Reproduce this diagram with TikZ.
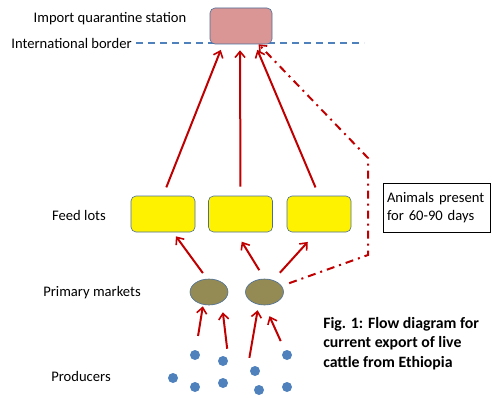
\documentclass[tikz,border=0pt]{standalone}
\usepackage{fontspec}
\setmainfont{Carlito}
\usetikzlibrary{arrows.meta, positioning, shapes.geometric}

\definecolor{qred}{HTML}{D99694}
\definecolor{boxline}{HTML}{4A6E9A}
\definecolor{olive}{HTML}{948A54}
\definecolor{dotblue}{HTML}{4F81BD}
\definecolor{arrred}{HTML}{C00000}

\begin{document}
\begin{tikzpicture}[
            x = 1pt, y = -1pt, % one unit is one pixel of the sketch
            > = {Straight Barb[length=6pt, width=10pt, line width=1.6pt]}, % arrow head style
            font = \fontsize{14.6}{17.5}\selectfont,
            semithick % line style
        ]

        \tikzstyle{station}=[
            draw = boxline,
            fill = qred,
            rounded corners = 5pt,
            minimum width = 62pt,
            minimum height = 36pt
        ]
        \tikzstyle{lot}=[
            draw = boxline,
            fill = yellow,
            rounded corners = 5pt,
            minimum width = 64pt,
            minimum height = 36pt
        ]
        \tikzstyle{market}=[
            draw = boxline,
            fill = olive,
            ellipse,
            minimum width = 38pt,
            minimum height = 26pt
        ]
        \tikzstyle{farm}=[
            fill = dotblue,
            circle,
            inner sep = 0pt,
            minimum size = 10pt
        ]
        \tikzstyle{flow}=[
            ->,
            color = arrred,
            line width = 2pt
        ]

	\useasboundingbox (0,0) rectangle (492,398);

	% border line
	\coordinate (bl) at (136,43);
	\coordinate (br) at (364,43);
	\draw[dotblue, line width=1.8pt, dash pattern=on 7pt off 5pt] (bl) -- (br);

	\node[station] (q) at (241,26) {};

	\node[lot] (f1) at (163,214) {};
	\node[lot] (f2) at (240.5,214) {};
	\node[lot] (f3) at (319,214) {};

	\node[market] (m1) at (209,292) {};
	\node[market] (m2) at (264.5,292) {};

	\node[farm] (p1) at (195,355) {};
	\node[farm] (p2) at (223,361) {};
	\node[farm] (p3) at (287,355) {};
	\node[farm] (p4) at (255,371) {};
	\node[farm] (p5) at (173,378) {};
	\node[farm] (p6) at (195,387) {};
	\node[farm] (p7) at (223,383) {};
	\node[farm] (p8) at (259,390) {};
	\node[farm] (p9) at (287,387) {};

	% labels
	\node (lq) at (110,19) {Import quarantine station};
	\node[anchor=east, inner sep=0pt] (lb) at (132,43) {International border};
	\node (lf) at (79,215) {Feed lots};
	\node (lm) at (92,293) {Primary markets};
	\node (lp) at (81,376) {Producers};
	\node[draw, thick, align=left, minimum width=107pt, minimum height=49pt,
	      inner sep=4pt, text width=99pt] (note) at (436.5,207.5) {Animals present\\for 60-90 days};
	\node[anchor=north west, align=left, inner sep=0pt,
	      font=\fontsize{15.8}{19.5}\selectfont\bfseries]
	     (cap) at (323,317) {Fig. 1: Flow diagram  for\\current export of live\\cattle from Ethiopia};

	% feed lots to station
	\path[flow, shorten <=9pt, shorten >=6pt] (f1.north) edge ([xshift=-18pt]q.south);
	\path[flow, shorten <=9pt, shorten >=6pt] (f2.north) edge ([xshift=-1pt]q.south);
	\path[flow, shorten <=9pt, shorten >=6pt] (f3.north) edge ([xshift=14pt]q.south);

	% markets to feed lots
	\path[flow, shorten <=7pt, shorten >=5pt] ([xshift=-2pt]m1.north) edge ([xshift=10pt]f1.south);
	\path[flow, shorten <=10pt, shorten >=11pt] (m2.north) edge ([xshift=-4.5pt]f2.south);
	\path[flow, shorten <=8pt, shorten >=13pt] ([xshift=10pt]m2.north) edge ([xshift=-2.5pt]f3.south);

	% producers to markets
	\path[flow, shorten <=14pt, shorten >=1pt] (p1) edge ([xshift=-6pt]m1.south);
	\path[flow, shorten <=7pt, shorten >=7pt] ([xshift=5pt]p2.north) edge ([xshift=13pt]m1.south);
	\path[flow, shorten <=8pt, shorten >=5pt] ([xshift=-7pt]p4.north) edge ([xshift=-6pt]m2.south);
	\path[flow, shorten <=10pt, shorten >=12pt] (p3) edge (m2.south);

	% direct route
	\coordinate (c1) at (368,255);
	\coordinate (c2) at (368,158);
	\draw[flow, dash pattern=on 8pt off 5pt on 2pt off 5pt, shorten <=8pt]
	     (m2) -- (c1) -- (c2) -- (q);

    \end{tikzpicture}
\end{document}
